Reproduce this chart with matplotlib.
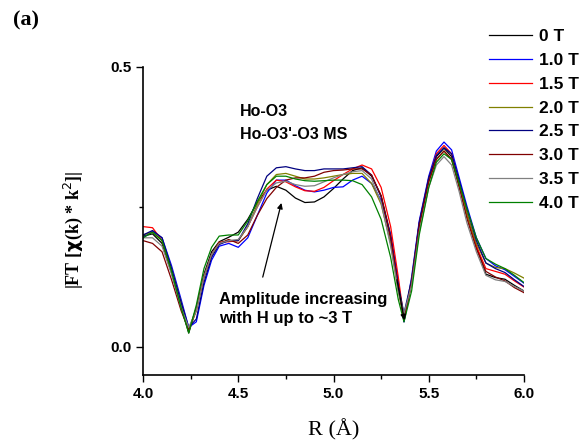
import numpy as np
import matplotlib.pyplot as plt
from matplotlib.ticker import MultipleLocator

# radial distance grid (A)
r = [4.00, 4.05, 4.10, 4.15, 4.20, 4.24, 4.28, 4.32, 4.36, 4.40,
     4.45, 4.50, 4.55, 4.60, 4.65, 4.70, 4.75, 4.80, 4.85, 4.90,
     4.95, 5.00, 5.05, 5.10, 5.15, 5.20, 5.25, 5.30, 5.34, 5.37,
     5.41, 5.45, 5.50, 5.54, 5.58, 5.62, 5.66, 5.70, 5.75, 5.80,
     5.85, 5.90, 5.95, 6.00]

ft_0T = [0.198, 0.202, 0.185, 0.132, 0.072, 0.025, 0.070, 0.130, 0.170, 0.188,
         0.196, 0.205, 0.228, 0.258, 0.280, 0.287, 0.280, 0.266, 0.258, 0.259,
         0.268, 0.283, 0.300, 0.315, 0.320, 0.305, 0.270, 0.200, 0.115, 0.045,
         0.115, 0.220, 0.298, 0.340, 0.355, 0.340, 0.288, 0.238, 0.180, 0.130,
         0.124, 0.121, 0.110, 0.100]
ft_1T = [0.195, 0.207, 0.195, 0.145, 0.085, 0.035, 0.045, 0.110, 0.155, 0.180,
         0.185, 0.178, 0.195, 0.235, 0.275, 0.298, 0.298, 0.288, 0.280, 0.277,
         0.280, 0.285, 0.286, 0.298, 0.305, 0.292, 0.262, 0.200, 0.115, 0.045,
         0.125, 0.225, 0.305, 0.350, 0.366, 0.352, 0.302, 0.252, 0.195, 0.158,
         0.145, 0.138, 0.126, 0.114]
ft_15T = [0.215, 0.213, 0.190, 0.135, 0.070, 0.030, 0.065, 0.125, 0.165, 0.187,
          0.188, 0.190, 0.215, 0.250, 0.282, 0.298, 0.295, 0.286, 0.279, 0.278,
          0.285, 0.297, 0.308, 0.318, 0.325, 0.318, 0.285, 0.215, 0.125, 0.050,
          0.115, 0.220, 0.300, 0.345, 0.360, 0.345, 0.292, 0.237, 0.180, 0.140,
          0.135, 0.130, 0.118, 0.107]
ft_2T = [0.200, 0.205, 0.190, 0.140, 0.080, 0.030, 0.065, 0.125, 0.165, 0.185,
         0.190, 0.190, 0.215, 0.255, 0.290, 0.308, 0.310, 0.305, 0.300, 0.300,
         0.302, 0.305, 0.308, 0.310, 0.310, 0.292, 0.255, 0.185, 0.100, 0.050,
         0.120, 0.215, 0.295, 0.335, 0.350, 0.335, 0.287, 0.237, 0.185, 0.150,
         0.142, 0.140, 0.132, 0.123]
ft_25T = [0.200, 0.208, 0.195, 0.140, 0.080, 0.035, 0.050, 0.115, 0.160, 0.183,
          0.190, 0.190, 0.220, 0.265, 0.305, 0.320, 0.322, 0.318, 0.315, 0.315,
          0.318, 0.318, 0.318, 0.320, 0.322, 0.307, 0.268, 0.195, 0.110, 0.060,
          0.120, 0.222, 0.302, 0.342, 0.356, 0.345, 0.297, 0.247, 0.190, 0.150,
          0.140, 0.133, 0.120, 0.108]
ft_3T = [0.190, 0.185, 0.170, 0.120, 0.065, 0.030, 0.070, 0.125, 0.165, 0.185,
         0.192, 0.185, 0.200, 0.235, 0.265, 0.285, 0.298, 0.302, 0.302, 0.305,
         0.312, 0.315, 0.316, 0.318, 0.318, 0.307, 0.270, 0.195, 0.105, 0.050,
         0.115, 0.215, 0.295, 0.335, 0.350, 0.335, 0.285, 0.230, 0.175, 0.135,
         0.125, 0.118, 0.106, 0.097]
ft_35T = [0.195, 0.195, 0.180, 0.130, 0.070, 0.035, 0.065, 0.125, 0.165, 0.185,
          0.190, 0.192, 0.215, 0.250, 0.280, 0.293, 0.296, 0.290, 0.287, 0.288,
          0.295, 0.302, 0.308, 0.313, 0.315, 0.300, 0.258, 0.180, 0.100, 0.060,
          0.110, 0.205, 0.285, 0.325, 0.340, 0.325, 0.277, 0.222, 0.170, 0.128,
          0.120, 0.117, 0.108, 0.100]
ft_4T = [0.195, 0.205, 0.190, 0.135, 0.070, 0.025, 0.075, 0.140, 0.178, 0.198,
         0.200, 0.200, 0.225, 0.260, 0.290, 0.305, 0.305, 0.300, 0.297, 0.296,
         0.297, 0.298, 0.298, 0.297, 0.290, 0.268, 0.228, 0.160, 0.085, 0.045,
         0.100, 0.200, 0.285, 0.330, 0.345, 0.335, 0.292, 0.247, 0.195, 0.158,
         0.148, 0.140, 0.128, 0.115]

series = [ft_0T, ft_1T, ft_15T, ft_2T, ft_25T, ft_3T, ft_35T, ft_4T]
labels = ['0 T', '1.0 T', '1.5 T', '2.0 T', '2.5 T', '3.0 T', '3.5 T', '4.0 T']
colors = ['black', '#0000ff', '#ff0000', '#808000', '#000080', '#800000', '#808080', '#008000']

plt.rcParams['font.family'] = ['Liberation Sans', 'DejaVu Sans']

fig = plt.figure(figsize=(5.88, 4.42), dpi=100)
ax = fig.add_axes([143 / 588, 1 - 375 / 442, (524 - 143) / 588, (375 - 67) / 442])

for y, lab, c in zip(series, labels, colors):
    ax.plot(r, y, color=c, lw=0.9, label=lab)

ax.set_xlim(4.0, 6.0)
ax.set_ylim(-0.05, 0.5)
ax.xaxis.set_major_locator(MultipleLocator(0.5))
ax.xaxis.set_minor_locator(MultipleLocator(0.25))
ax.set_yticks([0.0, 0.5])
ax.yaxis.set_minor_locator(MultipleLocator(0.25))
ax.xaxis.set_major_formatter(plt.FormatStrFormatter('%.1f'))
ax.yaxis.set_major_formatter(plt.FormatStrFormatter('%.1f'))

for s in ['top', 'right']:
    ax.spines[s].set_visible(False)
for s in ['left', 'bottom']:
    ax.spines[s].set_linewidth(1.2)
ax.tick_params(direction='out', length=5, width=1.0, labelsize=11)
ax.tick_params(which='minor', direction='out', length=3, width=1.0)
for t in ax.get_xticklabels() + ax.get_yticklabels():
    t.set_fontweight('bold')

ax.set_xlabel('R (Å)', family='Liberation Serif', fontsize=16, labelpad=13)
ax.set_ylabel(r'|FT [$\mathbf{\chi}$(k) * k$^{2}$]|', family='Liberation Serif',
              fontsize=13, fontweight='bold')
ax.yaxis.set_label_coords(-0.152, 0.47)

ax.text(4.51, 0.42, 'Ho-O3', fontsize=11.5, fontweight='bold', va='center')
ax.text(4.51, 0.38, "Ho-O3'-O3 MS", fontsize=11.5, fontweight='bold', va='center')

ax.annotate('', xy=(4.73, 0.262), xytext=(4.625, 0.12),
            arrowprops=dict(arrowstyle='-|>', color='black', lw=0.9,
                            mutation_scale=8))
ax.annotate('', xy=(5.375, 0.043), xytext=(5.33, 0.125),
            arrowprops=dict(arrowstyle='-|>', color='black', lw=0.9,
                            mutation_scale=8))
ax.text(4.40, 0.068, 'Amplitude increasing\nwith H up to ~3 T', fontsize=12,
        fontweight='bold', va='center', linespacing=1.4)

fig.text(13 / 588, 1 - 20 / 442, '(a)', family='Liberation Serif', fontsize=16,
         fontweight='bold', va='center')

fig.legend(loc='upper left', bbox_to_anchor=(489 / 588, 1 - 29 / 442),
           frameon=False, borderpad=0, borderaxespad=0, handlelength=2.5,
           handletextpad=0.4, labelspacing=0.5,
           prop={'weight': 'bold', 'size': 12.5})

plt.savefig('out.png', dpi=100)
